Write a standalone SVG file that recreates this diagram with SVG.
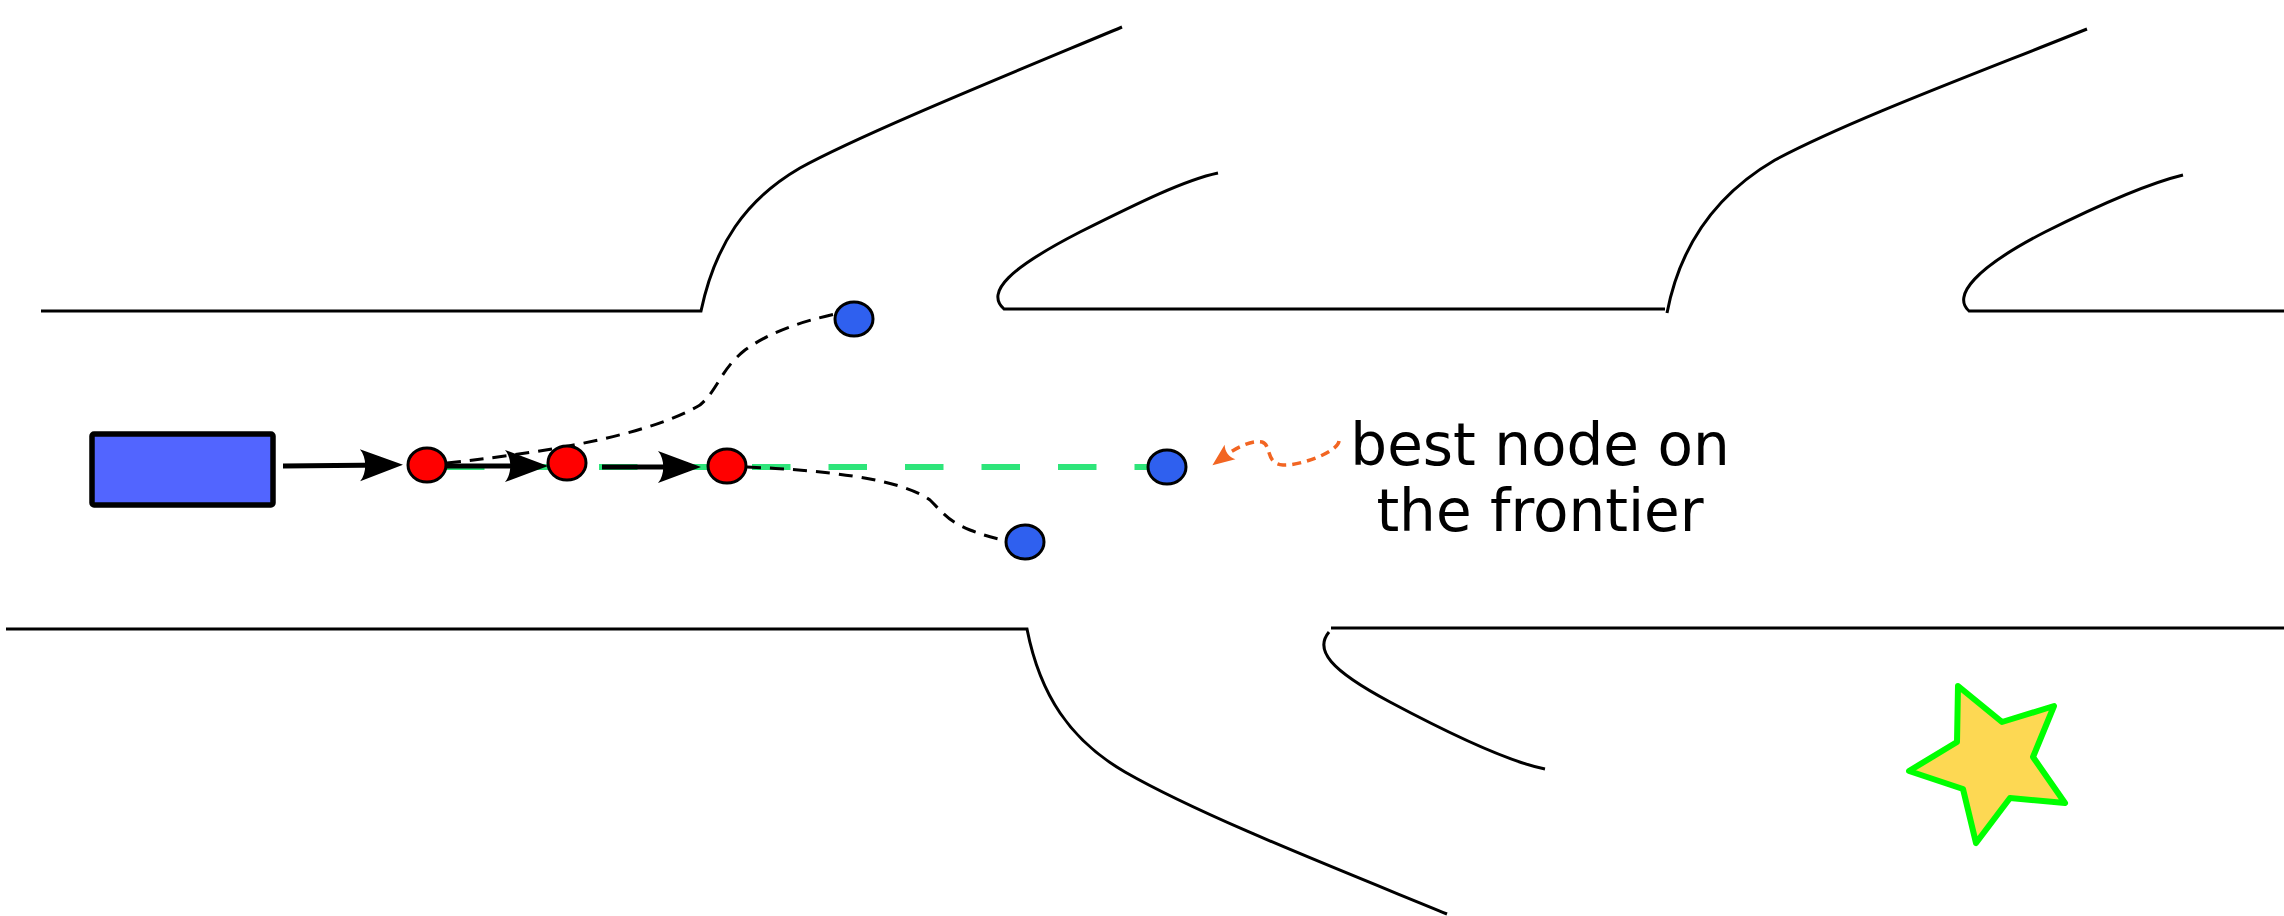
<svg xmlns="http://www.w3.org/2000/svg" width="2284" height="916" viewBox="0 0 2284 916">
<style>
.wall{fill:none;stroke:#000;stroke-width:3}
.arrow{fill:none;stroke:#000;stroke-width:5}
.path{fill:none;stroke:#000;stroke-width:3;stroke-dasharray:14 9}
.best{fill:none;stroke:#2ee57a;stroke-width:6;stroke-dasharray:38.5 38}
.hint{fill:none;stroke:#f26522;stroke-width:3.5;stroke-dasharray:9 6}
.red{fill:#ff0000;stroke:#000;stroke-width:3}
.blue{fill:#2f60ef;stroke:#000;stroke-width:3}
.lbl{font-family:"DejaVu Sans",sans-serif;font-size:58px;fill:#000;text-anchor:middle}
</style>
<defs>
<marker id="ah" markerUnits="userSpaceOnUse" orient="auto" refX="0" refY="0" markerWidth="60" markerHeight="40" viewBox="-30 -20 60 40" overflow="visible">
<path d="M15,0 L-28,-16 C-21,-8 -21,8 -28,16 Z" fill="#000"/>
</marker>
<marker id="ahO" markerUnits="userSpaceOnUse" orient="auto" refX="0" refY="0" markerWidth="30" markerHeight="30" viewBox="-15 -15 30 30" overflow="visible">
<path d="M12,0 L-10,-9 C-6,-3 -6,3 -10,9 Z" fill="#f26522"/>
</marker>
</defs>
<g id="walls">
<path class="wall" d="M41,311 L701,311 C715,245 745,200 800,168 C860,135 1000,78 1122,27"/>
<path class="wall" d="M1665,309 L1004,309 C985,292 1010,268 1080,232 C1140,202 1185,180 1218,173"/>
<path class="wall" d="M1667,313 C1680,245 1715,195 1775,160 C1850,120 1980,72 2087,29"/>
<path class="wall" d="M2284,311 L1969,311 C1952,296 1975,268 2045,232 C2105,202 2150,183 2183,175"/>
<path class="wall" d="M6,629 L1027,629 C1040,695 1070,740 1125,772 C1200,815 1330,866 1447,914"/>
<path class="wall" d="M2284,628 L1331,628"/>
<path class="wall" d="M1329,632 C1314,650 1330,670 1390,702 C1450,734 1510,762 1545,769"/>
</g>
<g id="connectors">
<line class="best" x1="446" y1="467" x2="1148" y2="467"/>
<path class="path" d="M447,463 C520,455 640,440 700,405 C718,390 720,370 745,350 C770,332 800,322 835,314"/>
<path class="path" d="M747,467 C820,470 900,478 930,500 C945,515 950,522 970,530 C985,536 995,538 1006,541"/>
<path class="arrow" d="M283,466 L388,465" marker-end="url(#ah)"/>
<path class="arrow" d="M446,466 L533,466" marker-end="url(#ah)"/>
<path class="arrow" d="M602,467 L686,467" marker-end="url(#ah)"/>
<path class="hint" d="M1339,441 C1338,452 1300,466 1283,465 C1265,464 1272,445 1262,442 C1250,440 1234,449 1222,458" marker-end="url(#ahO)"/>
</g>
<g id="robot"><rect x="92" y="434" width="181" height="71" rx="2" fill="#5265ff" stroke="#000" stroke-width="5.5"/></g>
<g id="n1"><ellipse class="red" cx="427" cy="465" rx="19" ry="17"/></g>
<g id="n2"><ellipse class="red" cx="567" cy="463" rx="19" ry="17"/></g>
<g id="n3"><ellipse class="red" cx="727" cy="466" rx="19" ry="17"/></g>
<g id="f1"><ellipse class="blue" cx="854" cy="319" rx="19" ry="17"/></g>
<g id="f2"><ellipse class="blue" cx="1167" cy="467" rx="19" ry="17"/></g>
<g id="f3"><ellipse class="blue" cx="1025" cy="542" rx="19" ry="17"/></g>
<g id="label">
<text class="lbl" x="1540" y="465">best node on</text>
<text class="lbl" x="1540" y="531">the frontier</text>
</g>
<g id="goal">
<polygon points="1958,686 2002,722 2054,706 2033,757 2065,803 2010,798 1976,843 1963,789 1909,771 1957,742" fill="#fdd853" stroke="#00ff00" stroke-width="6" stroke-linejoin="round"/>
</g>
</svg>
